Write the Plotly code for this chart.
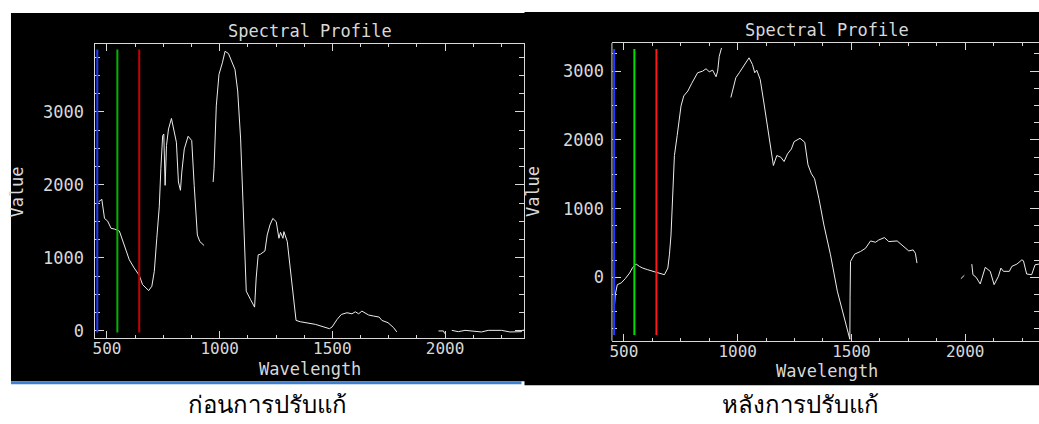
import plotly.graph_objects as go

W, H = 1039, 424

# ---------------- data ----------------
before_wl = [463, 477, 489, 503, 518, 533, 555, 577, 599, 621, 643, 658, 685, 699, 710, 721, 732, 739, 747, 752, 758, 764, 773, 786, 798, 808, 817, 826, 832, 843, 860, 876, 887, 901, 912, 931,
             None,
             971, 975, 985, 997, 1012, 1024, 1039, 1053, 1068, 1080, 1093, 1104, 1112, 1118, 1137, 1155, 1162, 1171, 1181, 1201, 1211, 1223, 1236, 1251, 1263, 1270, 1281, 1285, 1300, 1314, 1329, 1339, 1358, 1410, 1425, 1487, 1499, 1521, 1540, 1565, 1587, 1602, 1617, 1631, 1646, 1661, 1683, 1708, 1720, 1747, 1772, 1786,
             None,
             1971, 1993, 1999,
             None,
             2030, 2059, 2089, 2133, 2162, 2192, 2251, 2288, 2339, 2347]
before_val = [1768, 1803, 1541, 1504, 1405, 1396, 1368, 1178, 974, 861, 762, 634, 553, 612, 816, 1269, 1700, 2221, 2674, 2697, 1994, 2539, 2766, 2910, 2720, 2584, 2040, 1926, 2176, 2493, 2666, 2607, 1994, 1314, 1224, 1170,
              None,
              2040, 2221, 3082, 3514, 3672, 3830, 3799, 3694, 3581, 3286, 2630, 1723, 861, 544, 430, 326, 725, 1042, 1051, 1096, 1314, 1450, 1541, 1496, 1269, 1350, 1269, 1360, 1224, 816, 362, 144, 126, 99, 90, 31, 54, 158, 226, 249, 235, 262, 235, 272, 239, 218, 204, 190, 144, 113, 45, -14,
              None,
              0, 0, -37,
              None,
              8, -10, 8, 0, -14, 8, 8, -14, -10, 20]

after_wl = [459, 462, 471, 488, 506, 525, 539, 554, 568, 583, 605, 627, 649, 664, 678, 693, 700, 707, 715, 722, 734, 744, 751, 763, 781, 798, 824, 846, 861, 875, 890, 905, 912, 919, 929,
            None,
            970, 978, 992, 1007, 1022, 1036, 1050, 1065, 1075, 1084, 1099, 1114, 1131, 1146, 1157, 1172, 1189, 1204, 1219, 1236, 1248, 1274, 1295, 1309, 1324, 1338, 1357, 1379, 1408, 1438, 1467, 1489, 1493, 1494, 1496, 1514, 1540, 1562, 1584, 1606, 1620, 1645, 1664, 1701, 1730, 1752, 1771, 1781, 1788,
            None,
            1981, 1996,
            None,
            2029, 2034, 2048, 2066, 2088, 2110, 2127, 2146, 2157, 2168, 2194, 2205, 2227, 2249, 2256, 2270, 2292, 2307, 2324, 2335]
after_val = [-396, -251, -107, -82, -20, 62, 145, 192, 159, 134, 110, 87, 72, 48, 38, 134, 327, 616, 1194, 1772, 2061, 2302, 2494, 2639, 2711, 2822, 2977, 3000, 3035, 2991, 3014, 2919, 3000, 3217, 3338,
             None,
             2616, 2736, 2905, 2977, 3049, 3121, 3194, 3097, 2977, 3014, 2880, 2566, 2205, 1821, 1627, 1772, 1749, 1685, 1796, 1868, 1974, 2023, 1965, 1637, 1507, 1435, 1146, 760, 327, -202, -588, -853, -902, -299, 231, 337, 376, 423, 529, 510, 543, 578, 520, 529, 448, 384, 399, 351, 207,
             None,
             -20, 29,
             None,
             192, 38, 0, -97, 145, 87, -107, 14, 134, 87, 87, 159, 192, 254, 240, 48, 38, 182, 192, 200]

band_wl = [457, 546, 643]
band_names = ["B", "G", "R"]
x_ticks = [500, 1000, 1500, 2000]
y_ticks_before = [0, 1000, 2000, 3000]
y_ticks_after = [0, 1000, 2000, 3000]
title_text = "Spectral Profile"
x_title = "Wavelength"
y_title = "Value"
captions = ["ก่อนการปรับแก้", "หลังการปรับแก้"]

# ---------------- style ----------------
FG = "#d8d8d8"
LINE = "#ececec"
FONT = "DejaVu Sans Mono"
band_colors_before = ["#1f3cff", "#00b400", "#c80000"]
band_colors_after = ["#1f3cff", "#00e000", "#ff1a1a"]


def px_x(p):
    return p / W


def px_y(p):
    return 1 - p / H


fig = go.Figure()
fig.add_trace(go.Scatter(x=before_wl, y=before_val, mode="lines", xaxis="x", yaxis="y",
                         line=dict(color=LINE, width=1), connectgaps=False, showlegend=False))
fig.add_trace(go.Scatter(x=after_wl, y=after_val, mode="lines", xaxis="x2", yaxis="y2",
                         line=dict(color=LINE, width=1), connectgaps=False, showlegend=False))

common_x = dict(showgrid=False, zeroline=False, showline=True, linecolor=FG, linewidth=1,
                mirror="ticks", ticks="inside", ticklen=7, tickcolor=FG, tickwidth=1,
                tickvals=x_ticks, ticktext=[str(v) for v in x_ticks], ticklabelstandoff=-4,
                tickfont=dict(family=FONT, size=16, color=FG),
                minor=dict(ticks="inside", ticklen=3, tickcolor=FG, dtick=125, tick0=500, showgrid=False))
common_y = dict(showgrid=False, zeroline=False, ticks="inside", ticklen=9, tickcolor=FG, tickwidth=1,
                ticklabelstandoff=7,
                tickfont=dict(family=FONT, size=17, color=FG),
                minor=dict(ticks="inside", ticklen=5, tickcolor=FG, dtick=250, tick0=0, showgrid=False))

fig.update_layout(
    width=W, height=H, margin=dict(l=0, r=0, t=0, b=0),
    paper_bgcolor="white", plot_bgcolor="black",
    xaxis=dict(domain=[px_x(92.7), px_x(523)], range=[448.7, 2352.7], anchor="y", **common_x),
    yaxis=dict(domain=[px_y(340.7), px_y(44)], range=[-100.6, 3934], anchor="x",
               showline=True, linecolor=FG, linewidth=1, mirror="ticks",
               tickvals=y_ticks_before, ticktext=[str(v) for v in y_ticks_before], **common_y),
    xaxis2=dict(domain=[px_x(610.7), 1.0], range=[447.4, 2324.3], anchor="y2", **common_x),
    yaxis2=dict(domain=[px_y(343.3), px_y(43.3)], range=[-925, 3410], anchor="x2",
                showline=False, mirror="ticks",
                tickvals=y_ticks_after, ticktext=[str(v) for v in y_ticks_after], **common_y),
)

shapes = [
    dict(type="rect", xref="paper", yref="paper", x0=px_x(8), x1=px_x(525), y0=px_y(384), y1=px_y(13),
         fillcolor="black", line=dict(width=0), layer="below"),
    dict(type="rect", xref="paper", yref="paper", x0=px_x(8), x1=px_x(520), y0=px_y(387), y1=px_y(384),
         fillcolor="#3d7fd0", line=dict(width=0), layer="below"),
    dict(type="rect", xref="paper", yref="paper", x0=px_x(523), x1=1.0, y0=px_y(388), y1=px_y(12),
         fillcolor="black", line=dict(width=0), layer="below"),
    dict(type="line", xref="x2 domain", yref="y2 domain", x0=0, x1=0, y0=0, y1=1,
         line=dict(color=FG, width=1)),
]
for wl, cb, ca in zip(band_wl, band_colors_before, band_colors_after):
    shapes.append(dict(type="line", xref="x", yref="y domain", x0=wl, x1=wl, y0=0.02, y1=0.98,
                       line=dict(color=cb, width=2)))
    shapes.append(dict(type="line", xref="x2", yref="y2 domain", x0=wl, x1=wl, y0=0.02, y1=0.98,
                       line=dict(color=ca, width=2)))
fig.update_layout(shapes=shapes)

ann = []
tf = dict(family=FONT, size=17, color=FG)
af = dict(family=FONT, size=17, color=FG)
for cx, ty, wy, vx in [(307.8, 31, 372, 14), (826.7, 30, 374, 531)]:
    ann.append(dict(text=title_text, xref="paper", yref="paper", x=px_x(cx), y=px_y(ty),
                    showarrow=False, font=tf, xanchor="center", yanchor="middle"))
    ann.append(dict(text=x_title, xref="paper", yref="paper", x=px_x(cx), y=px_y(wy),
                    showarrow=False, font=af, xanchor="center", yanchor="middle"))
    ann.append(dict(text=y_title, xref="paper", yref="paper", x=px_x(vx), y=px_y(193),
                    showarrow=False, font=af, xanchor="center", yanchor="middle", textangle=-90))
for cap, cx in zip(captions, [265, 800]):
    ann.append(dict(text=cap, xref="paper", yref="paper", x=px_x(cx), y=px_y(406),
                    showarrow=False, font=dict(family="Noto Sans, DejaVu Sans", size=24, color="black"),
                    xanchor="center", yanchor="middle"))
fig.update_layout(annotations=ann)

fig.write_html("out.html")
